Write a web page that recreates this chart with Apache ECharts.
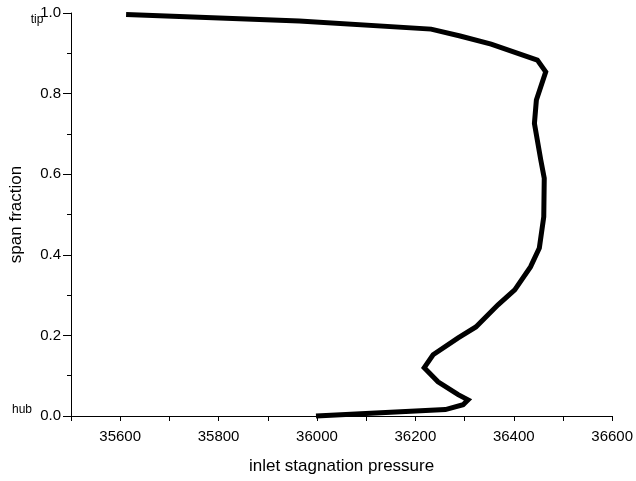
<!DOCTYPE html>
<html>
<head>
<meta charset="utf-8">
<script src="https://cdn.jsdelivr.net/npm/echarts@6/dist/echarts.min.js"></script>
<style>
  html, body { margin: 0; padding: 0; background: #fff; }
  #chart { width: 636px; height: 481px; }
</style>
</head>
<body>
<div id="chart"></div>
<script>
// Inlet stagnation pressure profile along the blade span (hub -> tip)
const pressure = [
  35998, 36261, 36297, 36307, 36287, 36246, 36218, 36236, 36287, 36323,
  36368, 36402, 36434, 36452, 36461, 36462, 36455, 36442, 36446, 36465,
  36448, 36354, 36291, 36232, 35964, 35612
];
const span = [
  0.000, 0.016, 0.028, 0.040, 0.053, 0.085, 0.120, 0.152, 0.194, 0.221,
  0.276, 0.313, 0.370, 0.417, 0.494, 0.590, 0.635, 0.726, 0.784, 0.854,
  0.883, 0.923, 0.943, 0.960, 0.980, 0.996
];
const xTicks = { min: 35500, max: 36600, step: 100 };
const yTicks = { min: 0, max: 1, step: 0.2 };
const spanMarkers = [
  { text: 'hub', value: 0 },
  { text: 'tip', value: 1 }
];

const FONT = '"Liberation Sans", Arial, sans-serif';
const chart = echarts.init(document.getElementById('chart'), null, { renderer: 'canvas' });

const points = pressure.map((p, i) => [p, span[i]]);

chart.setOption({
  animation: false,
  backgroundColor: '#ffffff',
  grid: { left: 71, right: 21, top: 13, bottom: 65, containLabel: false },
  xAxis: {
    type: 'value',
    min: xTicks.min,
    max: xTicks.max,
    interval: xTicks.step,
    name: 'inlet stagnation pressure',
    nameLocation: 'middle',
    nameGap: 42,
    nameTextStyle: { fontFamily: FONT, fontSize: 17, color: '#000' },
    axisLine: { show: true, lineStyle: { color: '#000', width: 1 } },
    axisTick: { show: true, length: 5, lineStyle: { color: '#000', width: 1 } },
    axisLabel: {
      margin: 13,
      fontFamily: FONT, fontSize: 15, color: '#000',
      formatter: v => (Math.round(v / xTicks.step) % 2 === 0 ? String(v) : '')
    },
    splitLine: { show: false }
  },
  yAxis: {
    type: 'value',
    min: yTicks.min,
    max: yTicks.max,
    interval: yTicks.step,
    name: 'span fraction',
    nameLocation: 'middle',
    nameGap: 46,
    nameTextStyle: { fontFamily: FONT, fontSize: 17, color: '#000' },
    axisLine: { show: true, lineStyle: { color: '#000', width: 1 } },
    axisTick: { show: true, length: 8, lineStyle: { color: '#000', width: 1 } },
    minorTick: { show: true, splitNumber: 2, length: 4, lineStyle: { color: '#000', width: 1 } },
    axisLabel: {
      margin: 10,
      fontFamily: FONT, fontSize: 15, color: '#000',
      formatter: v => v.toFixed(1)
    },
    splitLine: { show: false }
  },
  series: [
    {
      type: 'line',
      data: points,
      symbol: 'none',
      smooth: false,
      lineStyle: { color: '#000', width: 5, join: 'miter' },
      clip: false
    }
  ]
});

// Hub / tip markers placed next to the span-axis end labels
function drawMarkers() {
  const els = spanMarkers.map(m => {
    const pt = chart.convertToPixel({ gridIndex: 0 }, [xTicks.min, m.value]);
    const isHub = m.value === 0;
    return {
      type: 'text',
      x: isHub ? 22 : 37,
      y: pt[1] + (isHub ? -6 : 7),
      style: {
        text: m.text,
        fontFamily: FONT, fontSize: 12, fill: '#000',
        textAlign: 'center', textVerticalAlign: 'middle'
      }
    };
  });
  chart.setOption({ graphic: els });
}
drawMarkers();
</script>
</body>
</html>
